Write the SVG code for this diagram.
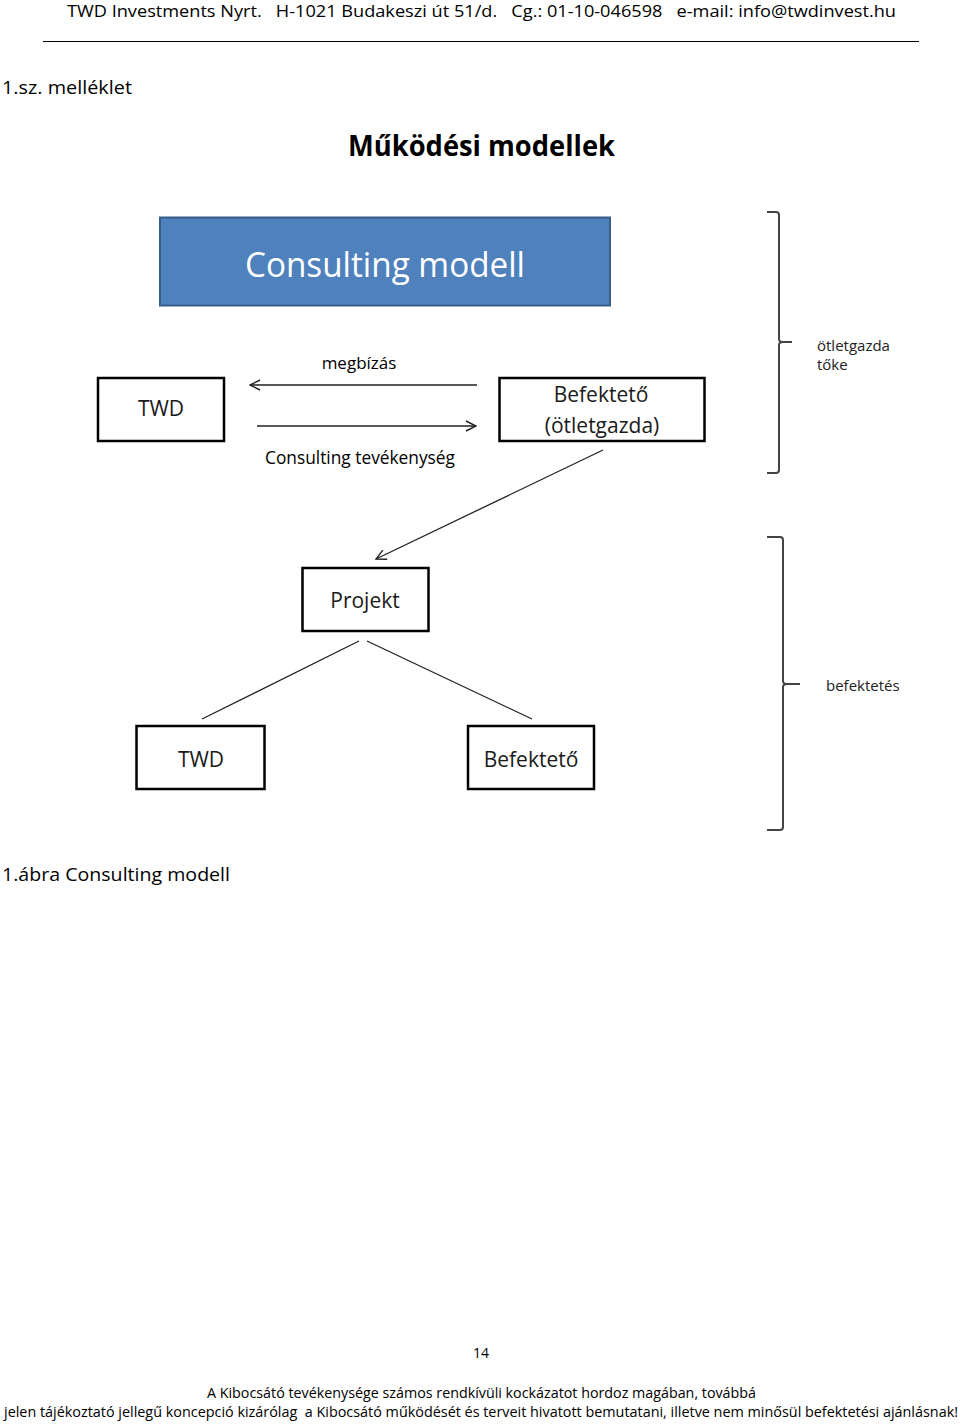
<svg xmlns="http://www.w3.org/2000/svg" width="960" height="1424" viewBox="0 0 960 1424">
<defs>
<style>
text{font-family:"Open Sans","Noto Sans","Liberation Sans",sans-serif;fill:#000}
.pre{white-space:pre}
.box{fill:#fff;stroke:#000;stroke-width:2.5}
.lbl{font-size:21px;fill:#1a1a1a;text-anchor:middle}
.conn{stroke:#222;stroke-width:1.3;fill:none}
.brace{stroke:#444;stroke-width:2;fill:none}
.small{font-size:15px;fill:#222}
</style>
<marker id="arr" viewBox="0 0 12 12" refX="11" refY="6" markerWidth="12" markerHeight="12" markerUnits="userSpaceOnUse" orient="auto">
<path d="M1,1 L11,6 L1,11" fill="none" stroke="#222" stroke-width="1.4"/>
</marker>
</defs>
<rect width="960" height="1424" fill="#fff"/>
<text class="pre" xml:space="preserve" x="67" y="17" font-size="17" textLength="829" lengthAdjust="spacingAndGlyphs">TWD Investments Nyrt.   H-1021 Budakeszi út 51/d.   Cg.: 01-10-046598   e-mail: info@twdinvest.hu</text>
<line x1="43" y1="41.5" x2="919" y2="41.5" stroke="#000" stroke-width="1.2"/>
<text x="2" y="94" font-size="19" textLength="130" lengthAdjust="spacingAndGlyphs">1.sz. melléklet</text>
<text x="348" y="156" font-size="28" font-weight="bold" textLength="267" lengthAdjust="spacingAndGlyphs">Működési modellek</text>

<g id="consulting-modell">
<rect x="160" y="217.5" width="450" height="88" fill="#4F81BD" stroke="#385D8A" stroke-width="2"/>
<text x="245" y="277" font-size="35" style="fill:#fff" textLength="280" lengthAdjust="spacingAndGlyphs">Consulting modell</text>
</g>
<g id="twd1">
<rect class="box" x="98" y="378" width="126" height="63"/>
<text class="lbl" x="161" y="416">TWD</text>
</g>
<g id="befekteto1">
<rect class="box" x="499.5" y="378" width="205" height="63"/>
<text class="lbl" x="601" y="402">Befektető</text>
<text class="lbl" x="602" y="433">(ötletgazda)</text>
</g>
<g id="projekt">
<rect class="box" x="302.5" y="568" width="126" height="63"/>
<text class="lbl" x="365" y="608">Projekt</text>
</g>
<g id="twd2">
<rect class="box" x="136.5" y="726" width="128" height="63"/>
<text class="lbl" x="201" y="767">TWD</text>
</g>
<g id="befekteto2">
<rect class="box" x="468" y="726" width="126" height="63"/>
<text class="lbl" x="531" y="767">Befektető</text>
</g>

<g id="connectors">
<line class="conn" x1="477" y1="385" x2="250" y2="385" marker-end="url(#arr)"/>
<line class="conn" x1="257" y1="426" x2="476" y2="426" marker-end="url(#arr)"/>
<line class="conn" x1="603" y1="450" x2="376" y2="559" marker-end="url(#arr)"/>
<line class="conn" x1="359" y1="641" x2="202" y2="719"/>
<line class="conn" x1="367" y1="641" x2="532" y2="719"/>
<text x="359" y="369" font-size="17" fill="#222" text-anchor="middle">megbízás</text>
<text x="265" y="464" font-size="18" fill="#222" textLength="190" lengthAdjust="spacingAndGlyphs">Consulting tevékenység</text>
</g>

<g id="brace1">
<path class="brace" d="M767,212 L776,212 Q779,212 779,215 L779,339 Q779,342 783,342 L792,342 M783,342 Q779,342 779,345 L779,470 Q779,473 776,473 L767,473"/>
<text class="small" x="817" y="351">ötletgazda</text>
<text class="small" x="817" y="370">tőke</text>
</g>
<g id="brace2">
<path class="brace" d="M767,537 L780,537 Q783,537 783,540 L783,681 Q783,684 787,684 L800,684 M787,684 Q783,684 783,687 L783,827 Q783,830 780,830 L767,830" stroke="#111"/>
<text class="small" x="826" y="691">befektetés</text>
</g>

<text x="2" y="881" font-size="19" textLength="228" lengthAdjust="spacingAndGlyphs">1.ábra Consulting modell</text>
<text x="481" y="1358" font-size="14" text-anchor="middle">14</text>
<text x="207" y="1398" font-size="15" textLength="549" lengthAdjust="spacingAndGlyphs">A Kibocsátó tevékenysége számos rendkívüli kockázatot hordoz magában, továbbá</text>
<text class="pre" xml:space="preserve" x="4" y="1417" font-size="14" textLength="954" lengthAdjust="spacingAndGlyphs">jelen tájékoztató jellegű koncepció kizárólag  a Kibocsátó működését és terveit hivatott bemutatani, illetve nem minősül befektetési ajánlásnak!</text>
</svg>
